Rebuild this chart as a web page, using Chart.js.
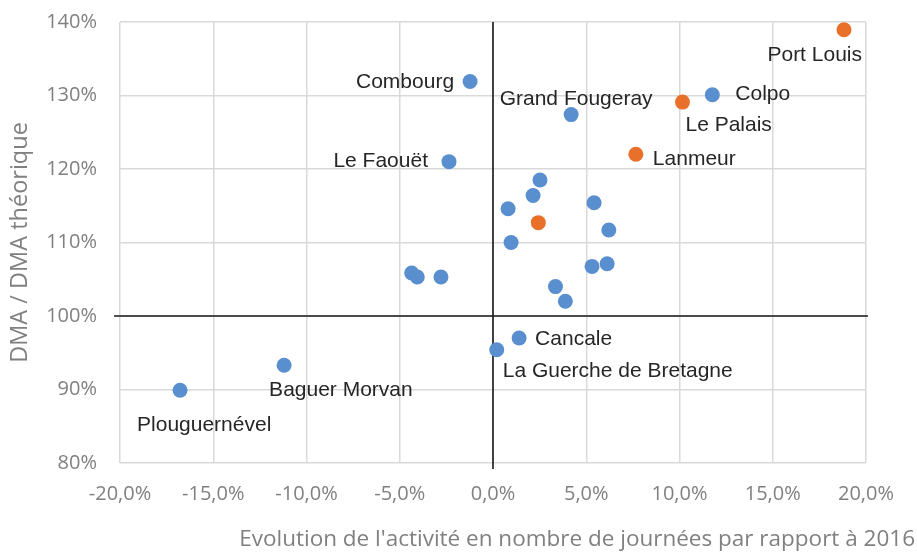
<!DOCTYPE html>
<html><head><meta charset="utf-8">
<script src="https://cdn.jsdelivr.net/npm/chart.js@4"></script>
<style>html,body{margin:0;padding:0;background:#fff}</style>
</head><body>
<canvas id="c" width="917" height="554"></canvas>
<script>
// ---- data ----
const blueNames = ['Combourg','Le Faouët','Grand Fougeray','Colpo','','','','','','','','','','','Cancale','La Guerche de Bretagne','','','','Baguer Morvan','Plouguernével'];
const blueX = [-1.23,-2.36,4.19,11.76,2.52,2.15,0.81,5.42,6.21,0.97,5.31,6.12,3.35,3.88,1.40,0.20,-4.36,-4.06,-2.79,-11.2,-16.78];
const blueY = [131.9,121.0,127.4,130.1,118.5,116.4,114.6,115.4,111.7,110.0,106.75,107.1,104.0,102.0,97.0,95.4,105.85,105.3,105.3,93.3,89.9];
const orangeNames = ['Port Louis','Le Palais','Lanmeur',''];
const orangeX = [18.82,10.16,7.66,2.43];
const orangeY = [138.95,129.1,122.0,112.7];
const xTicks = [-20,-15,-10,-5,0,5,10,15,20];
const yTicks = [80,90,100,110,120,130,140];
const xTitle = "Evolution de l'activité en nombre de journées par rapport à 2016";
const yTitle = 'DMA / DMA théorique';

// ---- label placement (style) ----
const labelPlace = {
  'Combourg':[-16,1,'right'],
  'Le Faouët':[-21,0,'right'],
  'Grand Fougeray':[5,-15,'center'],
  'Colpo':[23,-1,'left'],
  'Port Louis':[18,25,'right'],
  'Le Palais':[3,23,'left'],
  'Lanmeur':[17,5,'left'],
  'Cancale':[16,1,'left'],
  'La Guerche de Bretagne':[6,21,'left'],
  'Baguer Morvan':[-15,25,'left'],
  'Plouguernével':[-43,35,'left']
};

const tickColor = '#808080';
const tickFont = {family:'"Open Sans"', size:20};

const pointLabels = {
  id:'pointLabels',
  afterDatasetsDraw(chart){
    const ctx = chart.ctx;
    ctx.save();
    ctx.font = '21px "Liberation Sans", Arial, sans-serif';
    ctx.fillStyle = '#262626';
    ctx.textBaseline = 'middle';
    chart.data.datasets.forEach((ds, di) => {
      const meta = chart.getDatasetMeta(di);
      meta.data.forEach((el, i) => {
        const n = ds.data[i].name;
        if (!n) return;
        const p = labelPlace[n] || [12,0,'left'];
        ctx.textAlign = p[2];
        ctx.fillText(n, el.x + p[0], el.y + p[1]);
      });
    });
    ctx.restore();
  }
};

const crossLines = {
  id:'crossLines',
  beforeDatasetsDraw(chart){
    const {ctx, chartArea:a, scales:{x, y}} = chart;
    const x0 = x.getPixelForValue(0), y0 = y.getPixelForValue(100);
    ctx.save();
    ctx.strokeStyle = '#1a1a1a';
    ctx.lineWidth = 1.6;
    ctx.beginPath();
    ctx.moveTo(x0, a.top); ctx.lineTo(x0, a.bottom + 6);
    ctx.moveTo(a.left - 6, y0); ctx.lineTo(a.right + 2, y0);
    ctx.stroke();
    ctx.restore();
  }
};

const axisTitles = {
  id:'axisTitles',
  afterDraw(chart){
    const {ctx, chartArea:a} = chart;
    ctx.save();
    ctx.fillStyle = tickColor;
    ctx.font = '22.5px "Open Sans"';
    ctx.textBaseline = 'alphabetic';
    ctx.textAlign = 'right';
    ctx.fillText(xTitle, chart.width - 2, 546);
    ctx.font = '23.5px "Open Sans"';
    ctx.translate(27, (a.top + a.bottom) / 2);
    ctx.rotate(-Math.PI/2);
    ctx.textAlign = 'center';
    ctx.fillText(yTitle, 0, 0);
    ctx.restore();
  }
};

const fmtX = v => (Math.abs(v) < 1e-9 ? 0 : v).toFixed(1).replace('.', ',') + '%';

new Chart(document.getElementById('c'), {
  type:'scatter',
  data:{datasets:[
    {label:'A', data: blueNames.map((n,i)=>({x:blueX[i], y:blueY[i], name:n})),
     backgroundColor:'#5A8FCF', pointRadius:7.5, pointHoverRadius:7.5, borderWidth:0},
    {label:'B', data: orangeNames.map((n,i)=>({x:orangeX[i], y:orangeY[i], name:n})),
     backgroundColor:'#E8702A', pointRadius:7.5, pointHoverRadius:7.5, borderWidth:0}
  ]},
  options:{
    responsive:false, animation:false,
    layout:{padding:{top:22, right:51, left:0, bottom:0}},
    plugins:{legend:{display:false}, tooltip:{enabled:false}},
    scales:{
      x:{type:'linear', min:-20, max:20,
         afterBuildTicks(s){ s.ticks = xTicks.map(v=>({value:v})); },
         afterFit(s){ s.height = 91; s.paddingLeft = 0; s.paddingRight = 0; },
         ticks:{callback:fmtX, color:tickColor, font:tickFont, padding:19, maxRotation:0, autoSkip:false},
         grid:{color:'#d9d9d9', lineWidth:1.5, drawTicks:false},
         border:{display:false}},
      y:{type:'linear', min:80, max:140,
         afterBuildTicks(s){ s.ticks = yTicks.map(v=>({value:v})); },
         afterFit(s){ s.width = 120; s.paddingTop = 0; s.paddingBottom = 0; },
         ticks:{callback:v=>v+'%', color:tickColor, font:tickFont, padding:23},
         grid:{color:'#d9d9d9', lineWidth:1.5, drawTicks:false},
         border:{display:false}}
    }
  },
  plugins:[crossLines, pointLabels, axisTitles]
});
</script>
</body></html>
